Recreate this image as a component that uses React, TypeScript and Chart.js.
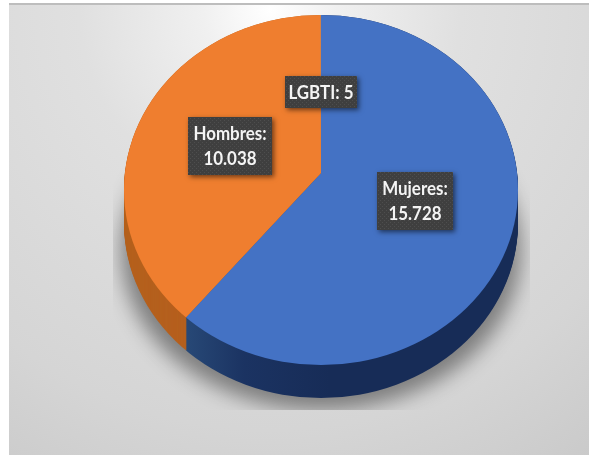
import React, { useEffect, useRef } from "react";
import { Chart, registerables } from "chart.js";

Chart.register(...registerables);

const categories = ["Mujeres", "Hombres", "LGBTI"];
const values = [15728, 10038, 5];
const valueLabels = ["15.728", "10.038", "5"];
const topColors = ["#4472c4", "#ef7e2f", "#a5a5a5"];
const sideColors = ["#172c57", "#b5601e", "#777777"];

// Projection of the pie's top face
const VX = 321, VY = 173;
const RX = 197, RY = 175, EY = 190;
const DEPTH = 33;
const SQUASH = RY / RX;

// Label boxes: [x, y, w, h]
const boxes = [
  [377, 172, 76, 58],
  [188, 117, 84, 58],
  [285, 76, 72, 32],
];

const pie3d = {
  id: "pie3d",
  beforeDatasetsDraw(chart: any) {
    const ctx: CanvasRenderingContext2D = chart.ctx;
    const arcs = chart.getDatasetMeta(0).data;

    // panel background
    ctx.save();
    const bg = ctx.createRadialGradient(270, 10, 0, 270, 10, 560);
    bg.addColorStop(0, "#ffffff");
    bg.addColorStop(0.12, "#f0f0f0");
    bg.addColorStop(0.34, "#e0e0e0");
    bg.addColorStop(0.75, "#d5d5d5");
    bg.addColorStop(1, "#c9c9c9");
    ctx.fillStyle = bg;
    ctx.fillRect(9, 3, 580, 452);
    ctx.fillStyle = "#bdbdbd";
    ctx.fillRect(9, 3, 580, 2);
    ctx.restore();

    // clipped soft shadow (only the blur lands on the panel)
    ctx.save();
    ctx.beginPath();
    ctx.rect(113, 170, 417, 240);
    ctx.clip();
    ctx.shadowColor = "rgba(0,0,0,0.42)";
    ctx.shadowBlur = 20;
    ctx.shadowOffsetX = 1000;
    ctx.fillStyle = "#000";
    ctx.beginPath();
    ctx.ellipse(VX - 1000, 250, 200, 160, 0, 0, Math.PI * 2);
    ctx.fill();
    ctx.restore();

    // side wall: the same slices, swept down
    const sideBlue = ctx.createLinearGradient(-134, 0, 9, 0);
    sideBlue.addColorStop(0, "#274876");
    sideBlue.addColorStop(0.4, "#1b3362");
    sideBlue.addColorStop(1, sideColors[0]);
    for (let d = DEPTH; d >= 0; d--) {
      arcs.forEach((arc: any, i: number) => {
        const { x, y, startAngle, endAngle, outerRadius } = arc.getProps([
          "x", "y", "startAngle", "endAngle", "outerRadius",
        ]);
        ctx.save();
        ctx.beginPath();
        ctx.ellipse(VX, EY + d, RX, RY, 0, 0, Math.PI * 2);
        ctx.clip();
        ctx.translate(x, y + d);
        ctx.scale(1, SQUASH);
        ctx.beginPath();
        ctx.moveTo(0, 0);
        ctx.arc(0, 0, outerRadius, startAngle, endAngle);
        ctx.closePath();
        ctx.fillStyle = i === 0 ? sideBlue : sideColors[i];
        ctx.fill();
        ctx.restore();
      });
    }

    // the top face: native arcs, clipped and squashed
    ctx.save();
    ctx.beginPath();
    ctx.ellipse(VX, EY, RX, RY, 0, 0, Math.PI * 2);
    ctx.clip();
    ctx.translate(VX, VY);
    ctx.scale(1, SQUASH);
    ctx.translate(-VX, -VY);
  },
  afterDatasetsDraw(chart: any) {
    const ctx: CanvasRenderingContext2D = chart.ctx;
    ctx.restore();

    const tile = document.createElement("canvas");
    tile.width = 4;
    tile.height = 4;
    const t = tile.getContext("2d")!;
    t.fillStyle = "#3f3f3f";
    t.fillRect(0, 0, 4, 4);
    t.fillStyle = "#4e4e4e";
    t.fillRect(0, 0, 1, 1);
    t.fillRect(2, 2, 1, 1);
    const pattern = ctx.createPattern(tile, "repeat")!;

    const drawText = (s: string, cx: number, by: number) => {
      ctx.save();
      ctx.translate(cx, by);
      ctx.scale(0.94, 1);
      ctx.fillText(s, 0, 0);
      ctx.restore();
    };

    categories.forEach((name, i) => {
      const [x, y, w, h] = boxes[i];
      ctx.save();
      ctx.shadowColor = "rgba(0,0,0,0.55)";
      ctx.shadowBlur = 5;
      ctx.shadowOffsetX = 2;
      ctx.shadowOffsetY = 2;
      ctx.fillStyle = "#3f3f3f";
      ctx.fillRect(x, y, w, h);
      ctx.restore();
      ctx.save();
      ctx.fillStyle = pattern;
      ctx.fillRect(x, y, w, h);
      ctx.fillStyle = "#f4f4f4";
      ctx.font = 'bold 18px Lato, "Open Sans", sans-serif';
      ctx.textAlign = "center";
      ctx.textBaseline = "alphabetic";
      const cx = x + w / 2;
      if (name === "LGBTI") {
        drawText(`${name}: ${valueLabels[i]}`, cx, y + 23);
      } else {
        drawText(`${name}:`, cx, y + 23);
        drawText(valueLabels[i], cx, y + 48);
      }
      ctx.restore();
    });
  },
};

export default function App() {
  const ref = useRef<HTMLCanvasElement>(null);
  useEffect(() => {
    document.body.style.margin = "0";
    const chart = new Chart(ref.current!, {
      type: "pie",
      data: {
        labels: categories,
        datasets: [
          {
            data: values,
            backgroundColor: topColors,
            borderWidth: 0,
            radius: 420,
            clip: false,
          } as any,
        ],
      },
      options: {
        responsive: false,
        animation: false,
        layout: { padding: { left: 53, right: 0, top: 0, bottom: 109 } },
        plugins: { legend: { display: false }, tooltip: { enabled: false } },
      },
      plugins: [pie3d],
    });
    return () => chart.destroy();
  }, []);
  return (
    <canvas
      ref={ref}
      width={589}
      height={455}
      style={{ display: "block", width: 589, height: 455 }}
    />
  );
}
